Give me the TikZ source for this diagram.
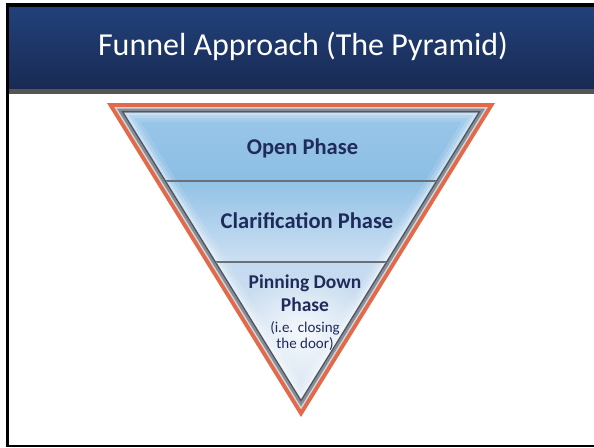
\documentclass[tikz,border=0pt]{standalone}
\usepackage{fontspec}
\setmainfont{Carlito}
\usepackage{xcolor}
\usepackage{tikz}
\usetikzlibrary{calc,fadings}

\definecolor{titletop}{HTML}{22417A}
\definecolor{titlebottom}{HTML}{182A54}
\definecolor{stripegray}{HTML}{555555}
\definecolor{funnelorange}{HTML}{E2694A}
\definecolor{funnellight}{HTML}{D3D7DB}
\definecolor{funnelgray}{HTML}{868C94}
\definecolor{funneldark}{HTML}{4C5562}
\definecolor{phasenavy}{HTML}{1F2B5B}
\definecolor{dividergray}{HTML}{6A7079}
\definecolor{openblue}{HTML}{9CC8EA}
\definecolor{openbluelow}{HTML}{8CBEE4}
\definecolor{clarblue}{HTML}{92C2E6}
\definecolor{clarbluelow}{HTML}{CDE0F2}
\definecolor{pinblue}{HTML}{C4DAEF}
\definecolor{pinbluelow}{HTML}{DEE8F4}

\tikzfading[name=softglow, inner color=transparent!0, outer color=transparent!100]

\begin{document}
\begin{tikzpicture}[x=1pt,y=-1pt,
    phase/.style={text=phasenavy, inner sep=0pt, anchor=base,
      font=\fontsize{22.5}{26}\selectfont\bfseries},
    note/.style={text=phasenavy, inner sep=0pt, anchor=base,
      font=\fontsize{15}{16}\selectfont}]
  \useasboundingbox (0,0) rectangle (594,447);

% 枠とタイトル
\fill[black] (6,3) rectangle (594,7);
\fill[black] (6,3) rectangle (9,447);
\fill[black] (6,444.5) rectangle (594,447);
\shade[top color=titletop, bottom color=titlebottom] (9,7) rectangle (594,89);
\fill[stripegray] (9,89) rectangle (594,94);
\node[text=white, inner sep=0pt, anchor=base, font=\fontsize{32}{38}\selectfont]
  (title) at (303,55) {Funnel Approach (The Pyramid)};

% 漏斗の縁(内心 (301,211.2) を中心に縮小)
\foreach \d/\c in {0/funnelorange,4/funnellight,5.5/funnelgray,8/funneldark} {
    \pgfmathsetmacro{\k}{1-\d/108.2}
    \fill[\c] ($(301,211.2)+\k*(-194,-108.2)$) -- ($(301,211.2)+\k*(194,-108.2)$)
      -- ($(301,211.2)+\k*(0,205.8)$) -- cycle;
}

% 内側の三角形
\pgfmathsetmacro{\k}{1-9.5/108.2}
\coordinate (tl) at ($(301,211.2)+\k*(-194,-108.2)$);
\coordinate (tr) at ($(301,211.2)+\k*(194,-108.2)$);
\coordinate (apex) at ($(301,211.2)+\k*(0,205.8)$);

\begin{scope}
  \clip (tl) -- (tr) -- (apex) -- cycle;
  \shade[top color=openblue, bottom color=openbluelow] (100,100) rectangle (500,181);
  \shade[top color=clarblue, bottom color=clarbluelow] (100,181) rectangle (500,262);
  \shade[top color=pinblue, bottom color=pinbluelow] (100,262) rectangle (500,400);
  \fill[white, path fading=softglow, opacity=0.8] (303,332) ellipse (70 and 60);
  % 縁のぼかし
  \foreach \w/\o in {18/0.12,11/0.18,5/0.3} {
      \draw[white, line width=\w pt, opacity=\o, line join=round] (tl) -- (tr) -- (apex) -- cycle;
  }
  \draw[dividergray, line width=2pt] (100,181) -- (500,181);
  \draw[dividergray, line width=2pt] (100,262) -- (500,262);
\end{scope}

% ラベル
\node[phase] (open) at (302.5,154) {Open Phase};
\node[phase] (clarify) at (307,228) {Clarification Phase};
\node[phase, font=\fontsize{19.5}{23}\selectfont\bfseries] (pinning) at (305,288) {Pinning Down};
\node[phase, font=\fontsize{19.5}{23}\selectfont\bfseries] (pinphase) at (305,311) {Phase};
\node[note] (closing) at (305,332) {(i.e. closing};
\node[note] (door) at (305,348) {the door)};

\end{tikzpicture}
\end{document}
